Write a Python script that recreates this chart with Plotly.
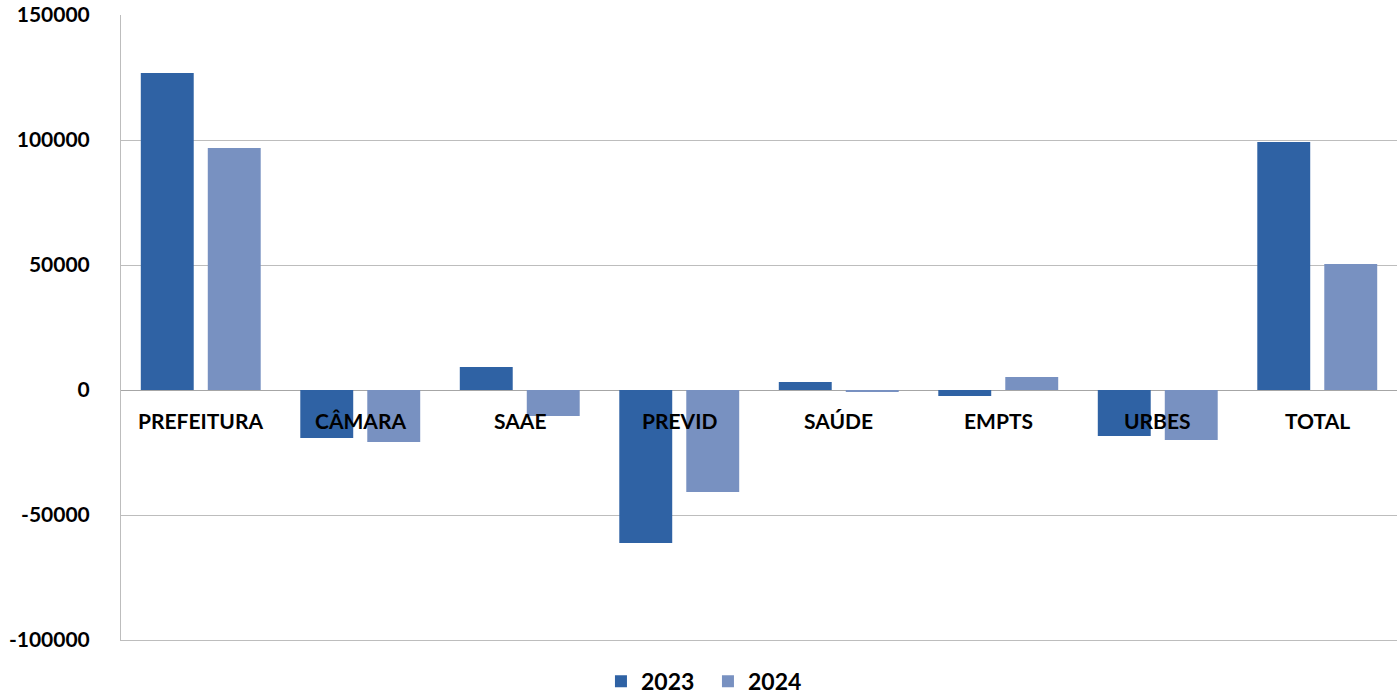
import plotly.graph_objects as go

categories = ["PREFEITURA", "CÂMARA", "SAAE", "PREVID", "SAÚDE", "EMPTS", "URBES", "TOTAL"]
values_2023 = [126800, -19200, 9200, -61200, 3200, -2400, -18400, 99200]
values_2024 = [96800, -20800, -10400, -40800, -800, 5200, -20000, 50400]
y_ticks = [-100000, -50000, 0, 50000, 100000, 150000]

FONT = "Lato, 'Open Sans', sans-serif"

fig = go.Figure()
fig.add_trace(go.Bar(name="<b>2023</b>", x=categories, y=values_2023,
                     marker=dict(color="#2f62a4", line=dict(width=0))))
fig.add_trace(go.Bar(name="<b>2024</b>", x=categories, y=values_2024,
                     marker=dict(color="#7891c1", line=dict(width=0))))

for c in categories:
    fig.add_annotation(x=c, y=0, xref="x", yref="y", text="<b>%s</b>" % c,
                       showarrow=False, yanchor="top", yshift=-16,
                       font=dict(family=FONT, size=21, color="black"))

fig.update_layout(
    width=1397, height=695,
    margin=dict(l=121, r=0, t=15, b=55, autoexpand=False),
    paper_bgcolor="white", plot_bgcolor="white",
    barmode="group", bargap=0.16, bargroupgap=0.21,
    showlegend=True,
    legend=dict(orientation="h", x=0.46, xanchor="center", y=-0.066, yanchor="middle",
                font=dict(family=FONT, size=23, color="black"), itemwidth=30,
                traceorder="normal", entrywidth=62),
    xaxis=dict(showticklabels=False, showgrid=False, zeroline=False,
               showline=True, linecolor="#bdbdbd", linewidth=1, ticks="",
               automargin=False),
    yaxis=dict(range=[-100000, 150000], tickvals=y_ticks,
               ticktext=["<b>%d</b>" % v for v in y_ticks],
               tickfont=dict(family=FONT, size=21, color="black"),
               showgrid=True, gridcolor="#bdbdbd", gridwidth=1,
               zeroline=True, zerolinecolor="#a6a6a6", zerolinewidth=1,
               showline=True, linecolor="#bdbdbd", linewidth=1,
               ticks="", ticklabelstandoff=26, automargin=False),
)

fig.write_html("out.html", config={"displayModeBar": False},
               post_script="document.body.style.margin='0';document.body.style.overflow='hidden';")
